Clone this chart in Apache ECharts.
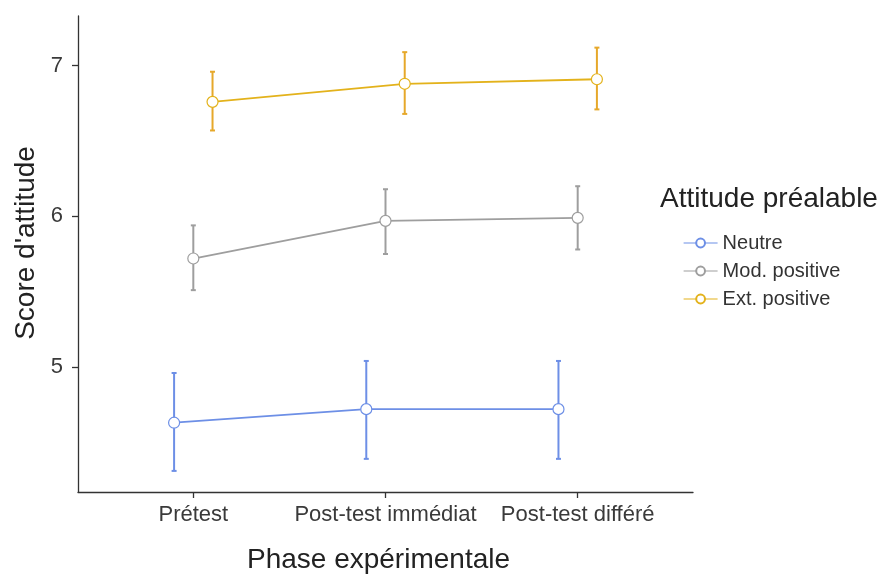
<!DOCTYPE html>
<html>
<head>
<meta charset="utf-8">
<script src="https://cdn.jsdelivr.net/npm/echarts@6/dist/echarts.min.js"></script>
<style>
  html, body { margin: 0; padding: 0; background: #fff; }
  #chart { width: 884px; height: 579px; }
</style>
</head>
<body>
<div id="chart"></div>
<script>
// phases (x positions 1, 2, 3)
var phases = ['Prétest', 'Post-test immédiat', 'Post-test différé']
var groups = ['Neutre', 'Mod. positive', 'Ext. positive']
var lineColors = ['#6D8FE6', '#9E9E9E', '#E3B21B']
var barColors = ['#6D8FE6', '#9E9E9E', '#E6A82A']
// dodge offset per group
var dodge = [-0.1, 0, 0.1]

// means
var neutreMean = [4.63, 4.72, 4.72]
var modMean = [5.72, 5.97, 5.99]
var extMean = [6.76, 6.88, 6.91]
// lower / upper of error bars
var neutreLow = [4.31, 4.39, 4.39]
var neutreHigh = [4.96, 5.04, 5.04]
var modLow = [5.51, 5.75, 5.78]
var modHigh = [5.94, 6.18, 6.20]
var extLow = [6.57, 6.68, 6.71]
var extHigh = [6.96, 7.09, 7.12]

var means = [neutreMean, modMean, extMean]
var lows = [neutreLow, modLow, extLow]
var highs = [neutreHigh, modHigh, extHigh]

var fontFam = 'Liberation Sans, Arial, sans-serif'
var chart = echarts.init(document.getElementById('chart'))

var series = []
groups.forEach(function (g, gi) {
  // error bars
  series.push({
    type: 'custom',
    name: g + ' (erreur)',
    z: 2,
    silent: true,
    data: phases.map(function (p, i) {
      return [i + 1 + dodge[gi], lows[gi][i], highs[gi][i]]
    }),
    renderItem: function (params, api) {
      var lo = api.coord([api.value(0), api.value(1)])
      var hi = api.coord([api.value(0), api.value(2)])
      var w = 2.5
      var style = { stroke: barColors[gi], lineWidth: 2 }
      return {
        type: 'group',
        children: [
          { type: 'line', shape: { x1: lo[0], y1: lo[1], x2: hi[0], y2: hi[1] }, style: style },
          { type: 'line', shape: { x1: lo[0] - w, y1: lo[1], x2: lo[0] + w, y2: lo[1] }, style: style },
          { type: 'line', shape: { x1: hi[0] - w, y1: hi[1], x2: hi[0] + w, y2: hi[1] }, style: style }
        ]
      }
    }
  })
  // mean line with points
  series.push({
    type: 'line',
    name: g,
    z: 3,
    symbol: 'circle',
    symbolSize: 11,
    itemStyle: { color: '#fff', borderColor: lineColors[gi], borderWidth: 1.2 },
    lineStyle: { color: lineColors[gi], width: 1.8 },
    data: means[gi].map(function (v, i) { return [i + 1 + dodge[gi], v] })
  })
})

var option = {
  animation: false,
  textStyle: { fontFamily: fontFam },
  grid: { left: 78, right: 191, top: 16, bottom: 86 },
  title: {
    text: 'Attitude préalable',
    left: 660,
    top: 185,
    padding: 0,
    textStyle: { fontSize: 28, fontWeight: 'normal', color: '#222', fontFamily: fontFam }
  },
  legend: {
    orient: 'vertical',
    left: 683,
    top: 233,
    padding: 0,
    itemGap: 8,
    itemWidth: 34,
    itemHeight: 11,
    data: groups.map(function (g, gi) {
      return { name: g, itemStyle: { color: '#fff', borderColor: lineColors[gi] }, lineStyle: { color: lineColors[gi], width: 1.2 } }
    }),
    textStyle: { fontSize: 20, color: '#333' }
  },
  xAxis: {
    type: 'value',
    min: 0.4,
    max: 3.6,
    name: 'Phase expérimentale',
    nameLocation: 'middle',
    nameGap: 54,
    nameTextStyle: { fontSize: 28, color: '#222', padding: [0, 14, 0, 0] },
    splitLine: { show: false },
    axisLine: { show: true, lineStyle: { color: '#333', width: 1.3 } },
    axisTick: { show: true, length: 6, customValues: [1, 2, 3], lineStyle: { color: '#333', width: 1.3 } },
    axisLabel: {
      customValues: [1, 2, 3],
      fontSize: 22,
      color: '#3a3a3a',
      margin: 12,
      formatter: function (v) { return phases[Math.round(v) - 1] }
    }
  },
  yAxis: {
    type: 'value',
    min: 4.17,
    max: 7.33,
    name: "Score d'attitude",
    nameLocation: 'middle',
    nameGap: 38,
    nameTextStyle: { fontSize: 28, color: '#222', padding: [0, 0, 0, 22] },
    splitLine: { show: false },
    axisLine: { show: true, lineStyle: { color: '#333', width: 1.3 } },
    axisTick: { show: true, length: 6, customValues: [5, 6, 7], lineStyle: { color: '#333', width: 1.3 } },
    axisLabel: { customValues: [5, 6, 7], fontSize: 22, color: '#3a3a3a', margin: 15 }
  },
  series: series
}
chart.setOption(option)
</script>
</body>
</html>
